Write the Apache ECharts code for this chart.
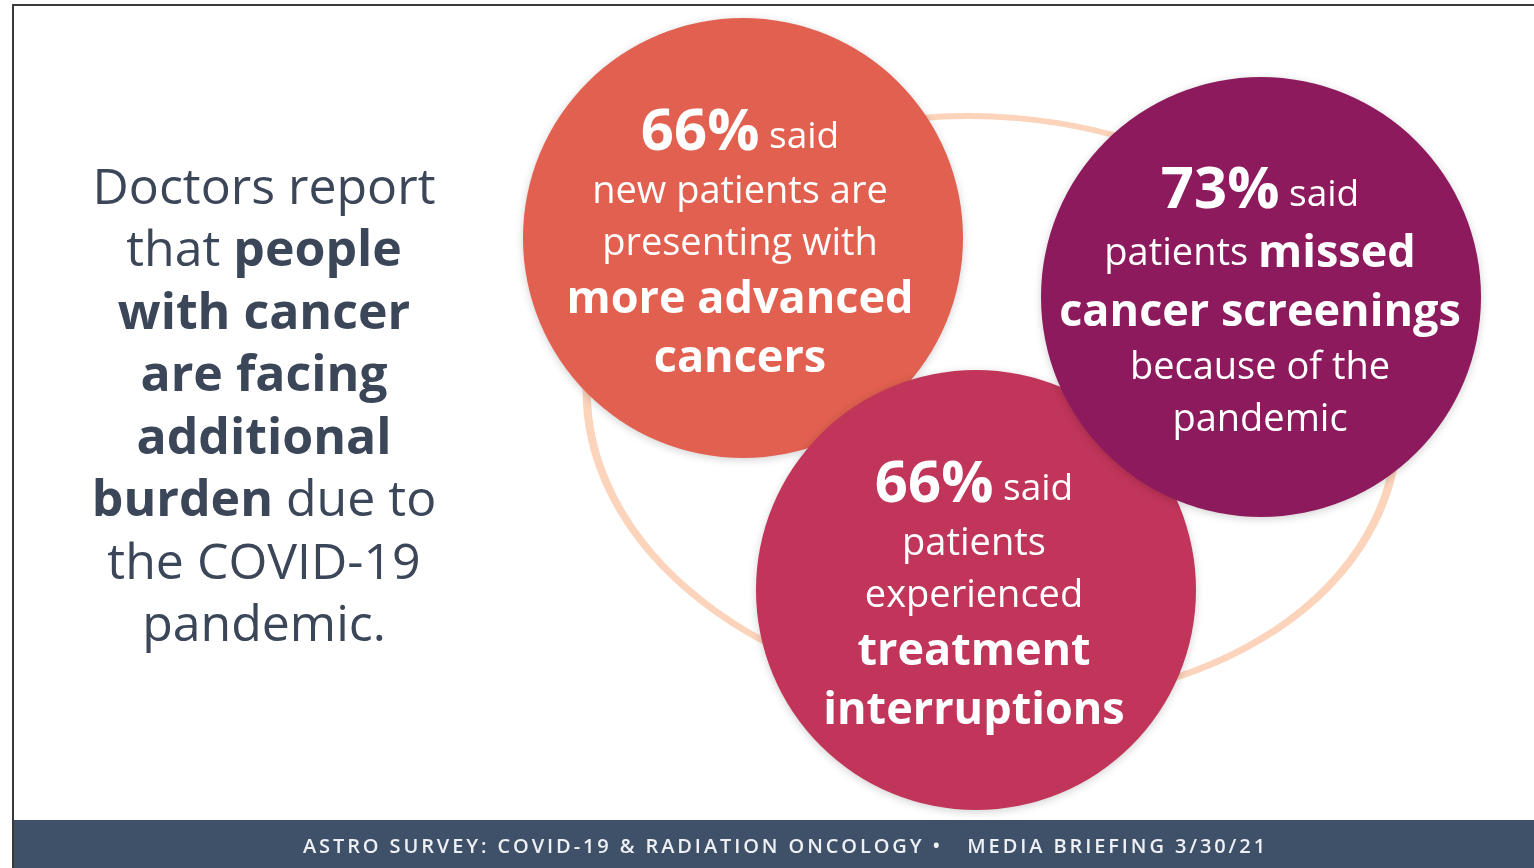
<!DOCTYPE html>
<html>
<head>
<meta charset="utf-8">
<script src="https://cdn.jsdelivr.net/npm/echarts@6/dist/echarts.min.js"></script>
<style>
html,body{margin:0;padding:0;background:#fff;}
#chart{width:1534px;height:868px;}
</style>
</head>
<body>
<div id="chart"></div>
<script>
// ---- data ----
const statNames = ['More advanced cancers', 'Treatment interruptions', 'Missed cancer screenings'];
const statPercents = [66, 66, 73];
const statCaptions = [
  ['{n|new patients are}', '{n|presenting with}', '{b|more advanced}', '{b|cancers}'],
  ['{n|patients}', '{n|experienced}', '{b|treatment}', '{b|interruptions}'],
  ['{n|patients }{b|missed}', '{b|cancer screenings}', '{n|because of the}', '{n|pandemic}']
];
const headlineLines = [
  '{r|Doctors report}',
  '{r|that }{b|people}',
  '{b|with cancer}',
  '{b|are facing}',
  '{b|additional}',
  '{b|burden}{r| due to}',
  '{r|the COVID-19}',
  '{r|pandemic.}'
];
const footerText = 'ASTRO SURVEY: COVID-19 & RADIATION ONCOLOGY \u2022   MEDIA BRIEFING 3/30/21';

// ---- layout (placement of the bubbles on a hidden pixel-like grid) ----
const bubbleCenters = [[743, 238], [976, 590], [1261, 297]];
const bubbleColors = ['#e1604f', '#c1355a', '#8d1a5d'];
const labelOffsets = [[-3, 6], [-2, 6], [-1, 5]];

const FONT = '"Open Sans", "Noto Sans", sans-serif';

const bubbleData = statNames.map((name, i) => ({
  name: name,
  value: [bubbleCenters[i][0], bubbleCenters[i][1], statPercents[i]],
  itemStyle: { color: bubbleColors[i] },
  label: {
    offset: labelOffsets[i],
    formatter: '{big|' + statPercents[i] + '%}{said| said}\n' + statCaptions[i].join('\n')
  }
}));

// footer rendered with per-character tokens to get the wide letter tracking
const footerRich = footerText.split('').map(ch => '{c|' + ch + '}').join('');

const chart = echarts.init(document.getElementById('chart'), null, { renderer: 'canvas' });
chart.setOption({
  backgroundColor: '#ffffff',
  animation: false,
  grid: { left: 0, right: 0, top: 0, bottom: 0 },
  xAxis: { type: 'value', min: 0, max: 1534, show: false },
  yAxis: { type: 'value', min: 0, max: 868, inverse: true, show: false },
  series: [{
    type: 'scatter',
    z: 3,
    symbol: 'circle',
    symbolSize: 440,
    itemStyle: { opacity: 1, shadowBlur: 8, shadowColor: 'rgba(0,0,0,0.18)', shadowOffsetY: 2 },
    label: {
      show: true,
      position: 'inside',
      align: 'center',
      verticalAlign: 'middle',
      color: '#ffffff',
      fontFamily: FONT,
      rich: {
        big: { fontFamily: FONT, fontSize: 58, fontWeight: 'bold', color: '#fff', lineHeight: 67 },
        said: { fontFamily: FONT, fontSize: 37, color: '#fff', lineHeight: 67, padding: [8, 0, 0, 0] },
        n: { fontFamily: FONT, fontSize: 38, color: '#fff', lineHeight: 52 },
        b: { fontFamily: FONT, fontSize: 45, fontWeight: 'bold', color: '#fff', lineHeight: 59 }
      }
    },
    emphasis: { disabled: true },
    data: bubbleData
  }],
  graphic: [
    // peach ring behind the bubbles
    {
      type: 'circle', z: 1,
      shape: { cx: 0, cy: 0, r: 406 },
      x: 992, y: 409, scaleY: 292 / 406, rotation: -5 * Math.PI / 180,
      style: { fill: 'none', stroke: '#fcd3bb', lineWidth: 7, strokeNoScale: true }
    },
    // frame lines
    { type: 'line', z: 20, shape: { x1: 12, y1: 5, x2: 1534, y2: 5 }, style: { stroke: '#3a3a3a', lineWidth: 2 } },
    { type: 'line', z: 20, shape: { x1: 13, y1: 4, x2: 13, y2: 868 }, style: { stroke: '#3a3a3a', lineWidth: 2 } },
    // footer bar
    { type: 'rect', z: 10, shape: { x: 14, y: 820, width: 1520, height: 48 }, style: { fill: '#3f5069' } },
    {
      type: 'text', z: 11, x: 784, y: 847,
      style: {
        text: footerRich, fill: '#eef0f4', font: '600 20px ' + FONT,
        textAlign: 'center', textVerticalAlign: 'middle',
        rich: {
          c: { fontFamily: FONT, fontSize: 20, fontWeight: 600, color: '#eef0f4', padding: [0, 1.45, 0, 1.45] }
        }
      }
    },
    // headline
    {
      type: 'text', z: 5, x: 264, y: 408,
      style: {
        text: headlineLines.join('\n'),
        textAlign: 'center', textVerticalAlign: 'middle',
        fill: '#3b4659', font: '50px ' + FONT,
        rich: {
          r: { fontFamily: FONT, fontSize: 50, color: '#3b4659', lineHeight: 62.5 },
          b: { fontFamily: FONT, fontSize: 50, fontWeight: 'bold', color: '#2c3a55', lineHeight: 62.5 }
        }
      }
    }
  ]
});
</script>
</body>
</html>
